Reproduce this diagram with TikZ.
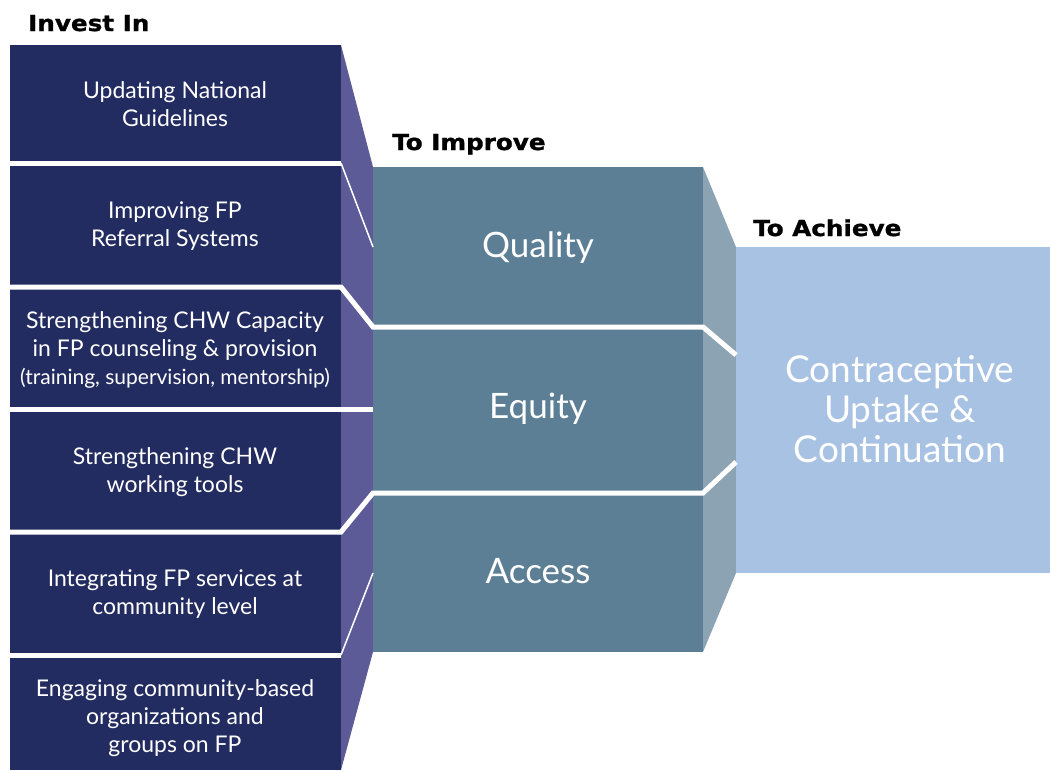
\documentclass[tikz,border=0pt]{standalone}
\usepackage{fontspec}
\setmainfont{Lato}
\newfontfamily\headfont[FakeStretch=1.12,FakeBold=1.2]{DejaVu Sans}
\definecolor{navy}{HTML}{232C60}
\definecolor{navyside}{HTML}{5D5B97}
\definecolor{teal}{HTML}{5C7F96}
\definecolor{tealside}{HTML}{8CA3B3}
\definecolor{goalblue}{HTML}{A8C2E4}
\begin{document}
\begin{tikzpicture}[x=1pt,y=-1pt,
  boxtext/.style={text=white, align=center, inner sep=0pt,
    font=\fontsize{23}{28}\selectfont},
  midtext/.style={text=white, inner sep=0pt, anchor=base,
    font=\fontsize{35}{40}\selectfont},
  goaltext/.style={text=white, align=center, inner sep=0pt,
    font=\fontsize{37}{40}\selectfont},
  heading/.style={anchor=base west, inner sep=0pt,
    font=\headfont\bfseries\fontsize{22}{24}\selectfont},
  septhick/.style={white, line width=5pt},
  septhin/.style={white, line width=1.5pt}]
\useasboundingbox (0,0) rectangle (1050,771);

% investment column and its bevelled side
\fill[navy] (10,45) rectangle (341,770);
\fill[navyside] (341,45) -- (373,167) -- (373,652) -- (341,770) -- cycle;

% outcome column and its bevelled side
\fill[teal] (373,167) rectangle (703,652);
\fill[tealside] (703,167) -- (736,247) -- (736,573) -- (703,652) -- cycle;

% goal panel
\fill[goalblue] (736,247) rectangle (1050,573);

% separators between the rows
\draw[septhick] (10,163) -- (341,163);
\draw[septhin]  (341,163) -- (373,247);
\draw[septhick] (10,287) -- (341,287) -- (373,327) -- (703,327) -- (736,355);
\draw[septhick] (10,409) -- (373,409);
\draw[septhick] (10,532) -- (341,532) -- (373,493) -- (703,493) -- (736,462);
\draw[septhick] (10,655) -- (341,655);
\draw[septhin]  (341,655) -- (373,573);

% headings
\node[heading] (hinvest)  at (28,31)   {Invest In};
\node[heading] (himprove) at (392,150) {To Improve};
\node[heading] (hachieve) at (753,236) {To Achieve};

% investment areas
\node[boxtext] (inv1) at (175,104) {Updating National\\Guidelines};
\node[boxtext] (inv2) at (175,226) {Improving FP\\Referral Systems};
\node[boxtext] (inv3) at (175,350) {Strengthening CHW Capacity\\in FP counseling \& provision\\{\fontsize{21}{28}\selectfont(training, supervision, mentorship)}};
\node[boxtext] (inv4) at (175,472) {Strengthening CHW\\working tools};
\node[boxtext] (inv5) at (175,594) {Integrating FP services at\\community level};
\node[boxtext] (inv6) at (175,718) {Engaging community-based\\organizations and\\groups on FP};

% outcomes
\node[midtext] (quality) at (538,257) {Quality};
\node[midtext] (equity)  at (538,418) {Equity};
\node[midtext] (access)  at (538,583) {Access};

% goal
\node[goaltext] (goal) at (900,409) {Contraceptive\\Uptake \&\\Continuation};
\end{tikzpicture}
\end{document}
